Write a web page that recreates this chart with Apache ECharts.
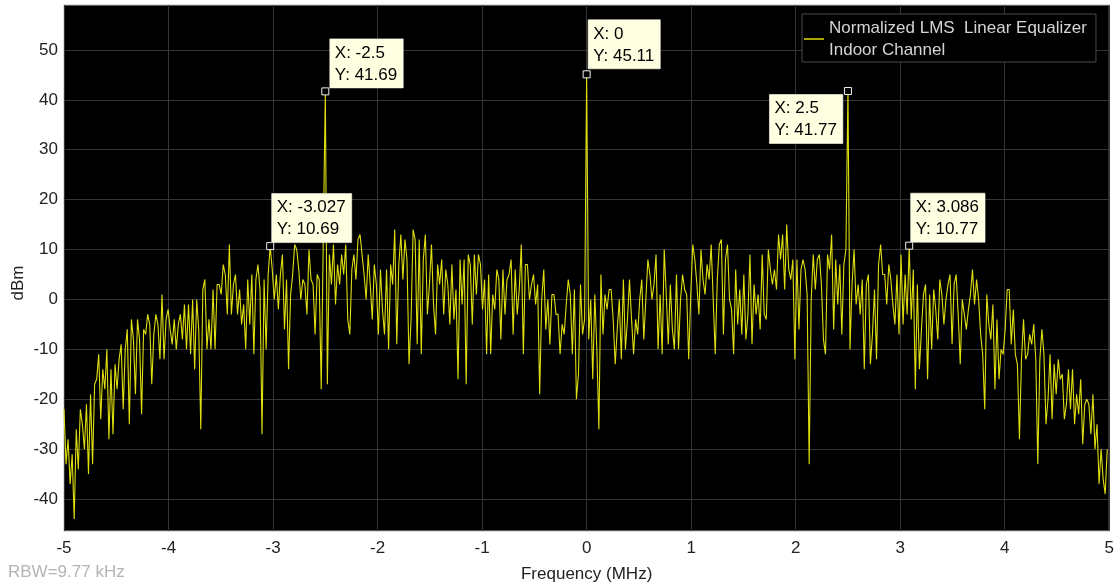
<!DOCTYPE html>
<html><head><meta charset="utf-8">
<script src="https://cdn.jsdelivr.net/npm/echarts@6/dist/echarts.min.js"></script>
<style>html,body{margin:0;padding:0;background:#fff}#c{width:1117px;height:588px}</style>
</head><body><div id="c"></div>
<script>
// Frequency grid (MHz): 512 bins from -5 with step 10/512
const FREQ_START = -5;
const FREQ_STEP = 10 / 512;
// Spectrum values (dBm)
const powerDbm = [
-22,-33,-28,-37,-31,-44,-26,-34,-22,-25,
-30,-21,-35,-19,-33,-17,-16,-11,-24,-14,
-18,-10,-28,-14,-27,-13,-18,-12,-9,-22,
-10,-6,-25,-4,-8,-19,-4,-8,-23,-6,
-7,-3,-5,-17,-7,-3,-5,-12,1,-12,
-4,-2,-6,-9,-4,-10,-5,-3,-8,-1,
-10,-1,-11,0,-14,0,-6,-26,2,4,
-10,-4,-10,2,-10,3,3,1,7,5,
-3,11,-3,3,5,-3,2,-5,-1,-10,
4,-5,5,-11,4,7,2,-27,4,-10,
5,10.69,6,0,5,-2,5,9,-6,4,
-14,1,5,11,10,6,0,4,3,-3,
10,4,3,-7,5,4,-18,12,41.69,-17,
9,3,11,-1,7,3,9,5,11,-4,
-7,6,9,4,12,13,9,5,0,9,
3,-4,7,3,-7,6,-2,-7,6,-10,
7,3,14,-9,7,13,4,12,8,-13,
-4,14,12,-9,12,-11,8,13,-3,3,
11,-1,-7,7,3,8,-3,6,3,-5,
7,-4,2,-16,8,-1,8,-17,9,7,
-5,9,1,9,7,-2,4,-11,5,-11,
1,-2,6,4,-8,6,-3,4,5,8,
-7,6,-3,2,11,-11,7,7,0,3,
5,-1,3,-19,0,6,-6,0,-9,1,
1,-3,-3,-11,-5,-7,-1,4,1,-11,
2,-20,-15,3,-7,-4,45.11,-8,0,-16,
1,-10,-26,5,-7,1,-2,2,2,-4,
-13,-6,0,-12,4,-10,-4,4,-4,-11,
-4,-7,0,4,-8,0,8,5,0,3,
9,-10,1,-11,10,1,-9,3,-6,-10,
5,-10,0,5,2,1,-12,1,11,8,
3,-3,10,4,1,7,4,11,0,-11,
4,11,12,-7,8,11,0,-2,-11,6,
-5,2,-7,5,-8,-3,9,-9,3,-3,
1,-6,9,-3,-4,10,6,3,6,2,
13,8,13,2,15,6,4,8,-12,8,
-6,6,8,6,1,-33,0,9,2,8,
9,3,-8,-11,9,6,13,-6,8,-1,
7,-7,7,10,41.77,-10,3,10,-1,3,
-3,4,-14,3,5,-13,-7,2,-12,7,
11,5,5,-1,7,4,-1,-5,5,-7,
9,-5,5,-3,10.77,-4,6,-18,3,-14,
-6,1,3,-16,1,-10,2,-2,-8,4,
1,-5,0,3,5,-9,3,5,-3,-13,
0,-3,-6,-2,1,6,-1,4,0,-7,
-11,-22,1,-5,-8,-1,-18,-4,-16,-10,
-11,-6,2,2,-9,-2,-11,-13,-28,-12,
-4,-12,-11,-7,-9,-5,-12,-33,-12,-6,
-11,-25,-20,-11,-24,-13,-19,-12,-16,-15,
-24,-21,-14,-22,-14,-25,-19,-23,-16,-29,
-21,-20,-21,-27,-19,-30,-25,-37,-30,-36,
-39,-30
];
// Data-tip marker bins
const markerIndex = [101, 128, 256, 384, 414];
const yTickValues = [-40, -30, -20, -10, 0, 10, 20, 30, 40, 50];
const seriesName = 'Normalized LMS  Linear Equalizer';
const legendSecondLine = 'Indoor Channel';
const yAxisTitle = 'dBm';
const rbwText = 'RBW=9.77 kHz';

const FONT = '"Liberation Sans", Arial, Helvetica, sans-serif';
const FS = 17;
const freq = powerDbm.map((_, i) => FREQ_START + i * FREQ_STEP);
const lineData = powerDbm.map((v, i) => [freq[i], v]);
const fmt = v => String(Number(v.toPrecision(4)));

const labelPos = {
  101: { position: [5.5, 0.5], align: 'left', verticalAlign: 'bottom' },
  128: { position: [8.5, 0.5], align: 'left', verticalAlign: 'bottom' },
  256: { position: [5.5, -1.5], align: 'left', verticalAlign: 'bottom' },
  384: { position: [-74.5, 7.5], align: 'left', verticalAlign: 'top' },
  414: { position: [5.5, 0.5], align: 'left', verticalAlign: 'bottom' }
};
const markerData = markerIndex.map(i => ({
  value: [freq[i], powerDbm[i]],
  label: labelPos[i]
}));

const chart = echarts.init(document.getElementById('c'), null, { renderer: 'canvas' });
chart.setOption({
  animation: false,
  backgroundColor: '#ffffff',
  textStyle: { fontFamily: FONT },
  grid: {
    left: 64, right: 7, top: 5, bottom: 56,
    show: true, backgroundColor: '#000000', borderColor: '#bdbdbd', borderWidth: 1
  },
  legend: {
    data: [{ name: seriesName, icon: 'rect' }],
    left: 802, top: 14,
    orient: 'vertical',
    itemWidth: 20, itemHeight: 1.5,
    padding: [3, 9, 1, 2],
    backgroundColor: '#000000', borderColor: '#4a4a4a', borderWidth: 1, borderRadius: 0,
    formatter: name => name + '\n' + legendSecondLine,
    textStyle: { color: '#d4d4d4', fontSize: FS, lineHeight: 22, fontFamily: FONT }
  },
  xAxis: {
    type: 'value', min: -5, max: 5, interval: 1,
    name: 'Frequency (MHz)', nameLocation: 'middle', nameGap: 35,
    nameTextStyle: { color: '#222', fontSize: FS, fontFamily: FONT },
    axisLine: { show: false }, axisTick: { show: false },
    axisLabel: { color: '#222', fontSize: FS, margin: 9, fontFamily: FONT },
    splitLine: { show: true, lineStyle: { color: '#363636', width: 1 } }
  },
  yAxis: {
    type: 'value', min: -46.4, max: 59,
    axisLine: { show: false },
    axisTick: { show: false, customValues: yTickValues },
    axisLabel: { color: '#222', fontSize: FS, margin: 6, fontFamily: FONT, customValues: yTickValues },
    splitLine: { show: true, lineStyle: { color: '#363636', width: 1 } }
  },
  graphic: [
    {
      type: 'text', left: 8, top: 564,
      style: { text: rbwText, fill: '#b4b4b4', fontSize: FS, fontFamily: FONT }
    },
    {
      type: 'text', x: 18, y: 283, rotation: Math.PI / 2,
      style: { text: yAxisTitle, fill: '#222', fontSize: FS, fontFamily: FONT, align: 'center', verticalAlign: 'middle' }
    }
  ],
  series: [
    {
      name: seriesName, type: 'line', data: lineData,
      showSymbol: false, symbol: 'none',
      lineStyle: { color: '#dede10', width: 1.1 },
      itemStyle: { color: '#dede10' },
      z: 2
    },
    {
      name: 'datatips', type: 'scatter', data: markerData,
      symbol: 'rect', symbolSize: 7,
      itemStyle: { color: '#000000', borderColor: '#f0f0f0', borderWidth: 1, opacity: 1 },
      label: {
        show: true, opacity: 1,
        formatter: p => 'X: ' + fmt(p.value[0]) + '\nY: ' + fmt(p.value[1]),
        color: '#000', fontSize: FS, lineHeight: 22, fontFamily: FONT,
        backgroundColor: '#ffffe1', borderColor: '#9a9a9a', borderWidth: 0.5,
        padding: [3, 6, 2, 5]
      },
      emphasis: { disabled: true },
      z: 5
    }
  ]
});
</script></body></html>
